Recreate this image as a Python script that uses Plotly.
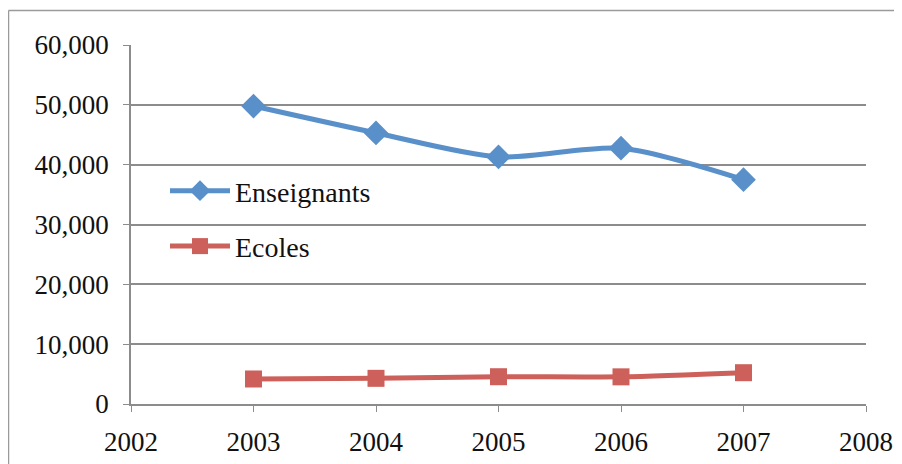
import plotly.graph_objects as go

years = [2003, 2004, 2005, 2006, 2007]
enseignants = [49800, 45300, 41300, 42750, 37500]
ecoles = [4180, 4290, 4560, 4540, 5230]

W, H = 894, 456
ML, MT = 123, 37
pw, ph = 735, 359
MR = W - ML - pw
MB = H - MT - ph


def px_x(fx):
    return (fx - ML) / pw


def px_y(fy):
    return (MT + ph - fy) / ph


fig = go.Figure()
fig.add_trace(go.Scatter(
    x=years, y=enseignants, name="Enseignants", mode="lines+markers",
    line=dict(color="#5990CA", width=5, shape="spline", smoothing=0.8),
    marker=dict(symbol="diamond", size=19, color="#5990CA"),
    legendgroup="a"))
fig.add_trace(go.Scatter(
    x=years, y=ecoles, name="Ecoles", mode="lines+markers",
    line=dict(color="#CD605B", width=5, shape="spline", smoothing=0.8),
    marker=dict(symbol="square", size=17, color="#CD605B"),
    legendgroup="b"))

axis_gray = "#8C8C8C"
fig.update_layout(
    width=W, height=H,
    margin=dict(l=ML, r=MR, t=MT, b=MB, autoexpand=False),
    paper_bgcolor="white", plot_bgcolor="white",
    font=dict(family="Liberation Serif", size=27, color="#111111"),
    showlegend=True,
    legend=dict(x=px_x(157), y=px_y(158), xanchor="left", yanchor="top",
                bgcolor="rgba(0,0,0,0)", font=dict(size=28),
                tracegroupgap=16, itemwidth=60),
    xaxis=dict(range=[2002, 2008], dtick=1, tick0=2002, showgrid=False,
               showline=True, linecolor=axis_gray, linewidth=1.5,
               ticks="outside", ticklen=6, tickcolor=axis_gray, zeroline=False,
               ticklabelstandoff=7),
    yaxis=dict(range=[0, 60000], dtick=10000, tickformat=",", showgrid=True,
               gridcolor=axis_gray, gridwidth=1.5, showline=True, linecolor=axis_gray,
               linewidth=1.5, ticks="outside", ticklen=6, tickcolor=axis_gray,
               zeroline=False, ticklabelstandoff=9),
    shapes=[
        dict(type="line", xref="paper", yref="paper",
             x0=px_x(0.5), x1=px_x(W + 10), y0=px_y(2.5), y1=px_y(2.5),
             line=dict(color="#9A9A9A", width=1.5), layer="below"),
        dict(type="line", xref="paper", yref="paper",
             x0=px_x(0.5), x1=px_x(0.5), y0=px_y(2.5), y1=px_y(H + 10),
             line=dict(color="#9A9A9A", width=1.5), layer="below"),
    ],
)

fig.write_html("out.html")
